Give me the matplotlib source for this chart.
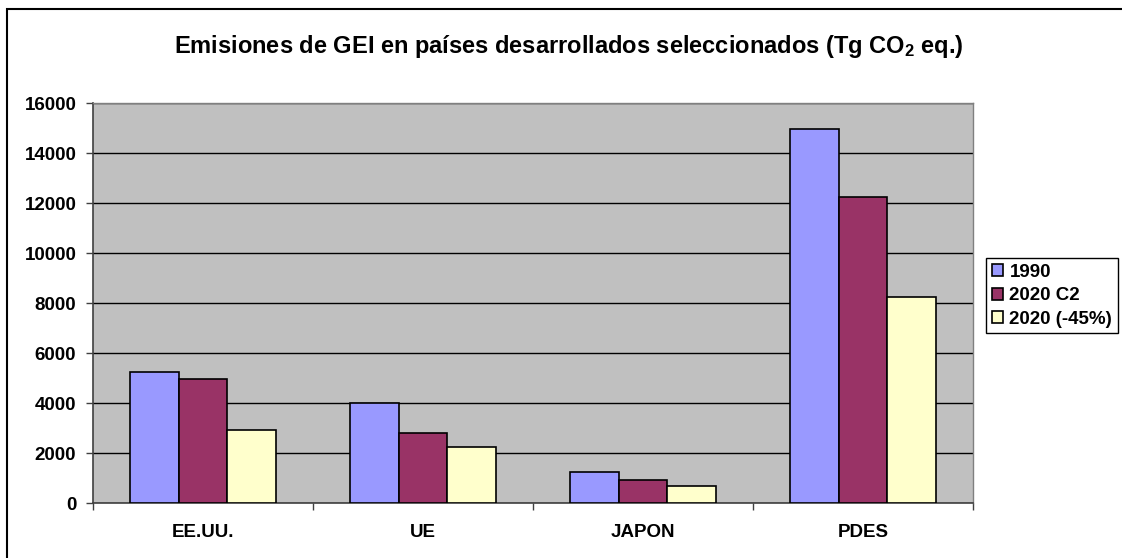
import matplotlib
matplotlib.use("Agg")
import matplotlib.pyplot as plt
import numpy as np
from matplotlib.patches import Rectangle

# data (Tg CO2 eq.)
categories = ["EE.UU.", "UE", "JAPON", "PDES"]
series_names = ["1990", "2020 C2", "2020 (-45%)"]
v1990 = [5250, 4010, 1230, 14950]
v2020_c2 = [4970, 2810, 930, 12230]
v2020_45 = [2920, 2230, 690, 8250]
yticks = [0, 2000, 4000, 6000, 8000, 10000, 12000, 14000, 16000]

colors = ["#9999FF", "#993366", "#FFFFCC"]

plt.rcParams["font.family"] = ["Liberation Sans", "DejaVu Sans"]
plt.rcParams["font.weight"] = "bold"
plt.rcParams["mathtext.fontset"] = "custom"
plt.rcParams["mathtext.rm"] = "Liberation Sans:bold"
plt.rcParams["mathtext.bf"] = "Liberation Sans:bold"
plt.rcParams["mathtext.default"] = "bf"

W, H = 1122, 558
fig = plt.figure(figsize=(W / 100, H / 100), dpi=100)
ax = fig.add_axes([93 / W, (H - 503) / H, 880 / W, 400 / H])
ax.set_facecolor("#C0C0C0")

x = np.arange(len(categories))
bw = 0.221
for i, (vals, name) in enumerate(zip([v1990, v2020_c2, v2020_45], series_names)):
    ax.bar(x + (i - 1) * bw, vals, width=bw, color=colors[i], edgecolor="black",
           linewidth=1.2, label=name, zorder=3)

ax.set_xlim(-0.5, len(categories) - 0.5)
ax.set_ylim(0, 16000)
ax.set_yticks(yticks)
ax.set_yticklabels([str(t) for t in yticks], fontsize=13.5, fontweight="bold")
ax.yaxis.grid(True, color="black", linewidth=1.0, zorder=1)
ax.set_axisbelow(True)

ax.set_xticks(x)
ax.set_xticklabels(categories, fontsize=13.5, fontweight="bold")
ax.tick_params(axis="x", length=0, pad=15)
ax.set_xticks(np.arange(-0.5, len(categories) + 0.5, 1), minor=True)
ax.tick_params(axis="x", which="minor", length=5, width=1, color="#404040", direction="out")
ax.tick_params(axis="y", length=5, width=1, color="#404040", direction="out", pad=7)

for side in ["left", "bottom"]:
    ax.spines[side].set_color("#404040")
    ax.spines[side].set_linewidth(1.2)
for side in ["top", "right"]:
    ax.spines[side].set_color("#808080")
    ax.spines[side].set_linewidth(1.0)

fig.text(569 / W, 1 - 46 / H,
         r"Emisiones de GEI en países desarrollados seleccionados (Tg CO$_2$ eq.)",
         ha="center", va="center", fontsize=17, fontweight="bold")

leg = fig.legend(loc="upper left", bbox_to_anchor=(986 / W, 1 - 258 / H),
                 fancybox=False, frameon=True, edgecolor="black", framealpha=1,
                 handlelength=0.6, handleheight=0.6, handletextpad=0.35,
                 borderpad=0.3, labelspacing=0.35, borderaxespad=0,
                 prop={"size": 13.5, "weight": "bold"})
leg.get_frame().set_linewidth(1.0)

# outer chart border
fig.patches.append(Rectangle((7 / W, -0.05), 1.2, (H - 9) / H + 0.05,
                             transform=fig.transFigure, fill=False,
                             edgecolor="black", linewidth=1.5))

fig.savefig("out.png", dpi=100)
